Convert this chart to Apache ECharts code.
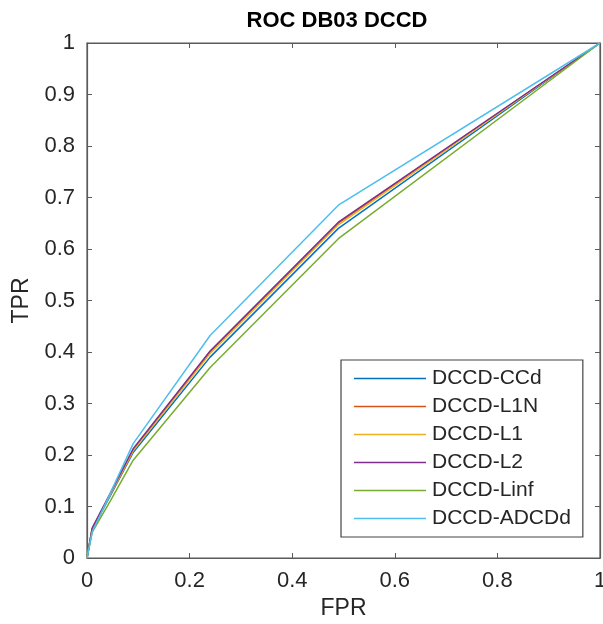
<!DOCTYPE html>
<html><head><meta charset="utf-8">
<script src="https://cdn.jsdelivr.net/npm/echarts@6/dist/echarts.min.js"></script>
<style>html,body{margin:0;padding:0;background:#fff;overflow:hidden}#c{width:603px;height:624px}</style>
</head><body><div id="c"></div>
<script>
const seriesNames = ['DCCD-CCd','DCCD-L1N','DCCD-L1','DCCD-L2','DCCD-Linf','DCCD-ADCDd'];
const colors = ['#0072BD','#D95319','#EDB120','#7E2F8E','#77AC30','#4DBEEE'];
const fprCCd   = [0, 0.01, 0.045, 0.09, 0.24, 0.49, 1];
const tprCCd   = [0, 0.055, 0.12, 0.205, 0.39, 0.64, 1];
const fprL1N   = [0, 0.01, 0.045, 0.09, 0.24, 0.49, 1];
const tprL1N   = [0, 0.056, 0.123, 0.21, 0.40, 0.65, 1];
const fprL1    = [0, 0.01, 0.045, 0.09, 0.24, 0.49, 1];
const tprL1    = [0, 0.056, 0.122, 0.208, 0.397, 0.647, 1];
const fprL2    = [0, 0.01, 0.045, 0.09, 0.24, 0.49, 1];
const tprL2    = [0, 0.058, 0.125, 0.212, 0.402, 0.652, 1];
const fprLinf  = [0, 0.01, 0.045, 0.09, 0.24, 0.49, 1];
const tprLinf  = [0, 0.05, 0.11, 0.19, 0.37, 0.62, 1];
const fprADCDd = [0, 0.01, 0.045, 0.09, 0.24, 0.49, 1];
const tprADCDd = [0, 0.05, 0.125, 0.222, 0.432, 0.685, 1];
const xTicks = [0, 0.2, 0.4, 0.6, 0.8, 1];
const yTicks = [0,0.1,0.2,0.3,0.4,0.5,0.6,0.7,0.8,0.9,1];

const fprs = [fprCCd,fprL1N,fprL1,fprL2,fprLinf,fprADCDd];
const tprs = [tprCCd,tprL1N,tprL1,tprL2,tprLinf,tprADCDd];
const fmt = v => String(Math.round(v*10)/10);
const axColor = '#5a5a5a';
const FF = 'Liberation Sans, Arial, sans-serif';
const labelStyle = {color:'#262626', fontSize:22, fontFamily:FF};

const chart = echarts.init(document.getElementById('c'), null, {renderer:'canvas'});
chart.setOption({
  backgroundColor:'#fff',
  animation:false,
  title:{text:'ROC DB03 DCCD', left:332, textAlign:'center', top:5,
    textStyle:{fontSize:22, fontWeight:'bold', color:'#000', fontFamily:FF}},
  grid:{left:87, right:3, top:43, bottom:66, containLabel:false, outerBoundsMode:'none',
    show:true, borderColor:axColor, borderWidth:1.2, backgroundColor:'transparent'},
  legend:{
    orient:'vertical', left:341, top:360,
    padding:[8,12,8,13],
    itemGap:7, itemWidth:72, itemHeight:1.6,
    icon:'rect',
    borderColor:'#444', borderWidth:1.2, backgroundColor:'#fff',
    textStyle:{fontSize:21, color:'#262626', fontFamily:FF, padding:[0,0,0,1]},
    data:seriesNames
  },
  xAxis:[
    {type:'value', min:0, max:1, interval:0.2, name:'FPR', nameLocation:'middle', nameGap:36,
     nameTextStyle:{fontSize:23, color:'#262626', fontFamily:FF},
     axisLine:{onZero:false, lineStyle:{color:axColor, width:1.2}},
     axisTick:{inside:true, length:5, lineStyle:{color:axColor}},
     axisLabel:Object.assign({margin:12, formatter:fmt}, labelStyle),
     splitLine:{show:false}},
    {type:'value', min:0, max:1, interval:0.2, position:'top',
     axisLine:{show:true, onZero:false, lineStyle:{color:axColor, width:1.2}},
     axisTick:{show:true, inside:true, length:5, lineStyle:{color:axColor}},
     axisLabel:{show:false}, splitLine:{show:false}}
  ],
  yAxis:[
    {type:'value', min:0, max:1, interval:0.1, name:'TPR', nameLocation:'middle', nameGap:50,
     nameTextStyle:{fontSize:23, color:'#262626', fontFamily:FF},
     axisLine:{onZero:false, lineStyle:{color:axColor, width:1.2}},
     axisTick:{inside:true, length:5, lineStyle:{color:axColor}},
     axisLabel:Object.assign({margin:12, formatter:fmt}, labelStyle),
     splitLine:{show:false}},
    {type:'value', min:0, max:1, interval:0.1, position:'right',
     axisLine:{show:true, onZero:false, lineStyle:{color:axColor, width:1.2}},
     axisTick:{show:true, inside:true, length:5, lineStyle:{color:axColor}},
     axisLabel:{show:false}, splitLine:{show:false}}
  ],
  series: seriesNames.map((n,i)=>({
    name:n, type:'line', showSymbol:false, symbol:'none', smooth:false,
    xAxisIndex:0, yAxisIndex:0,
    color:colors[i],
    lineStyle:{color:colors[i], width:1.5},
    data: fprs[i].map((x,j)=>[x, tprs[i][j]])
  }))
});
</script></body></html>
